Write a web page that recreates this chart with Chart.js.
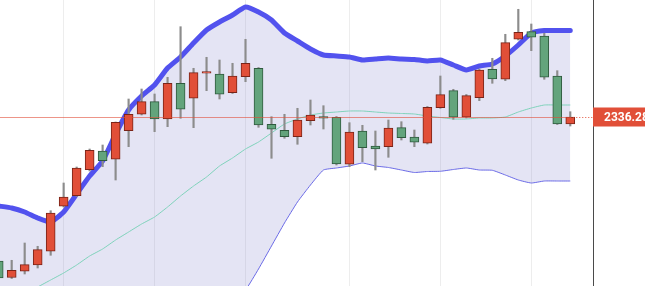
<!DOCTYPE html>
<html><head><meta charset="utf-8">
<script src="https://cdn.jsdelivr.net/npm/chart.js@4.4.1/dist/chart.umd.min.js"></script>
<style>html,body{margin:0;padding:0;background:#fff;overflow:hidden}canvas{display:block}</style>
</head><body>
<canvas id="c" width="645" height="286"></canvas>
<script>
// candle index (one per bar)
const idx = Array.from({length: 45}, (_, i) => i);
const open  = [2228.25,2215.88,2220.53,2225.25,2235.53,2269.28,2277.23,2296.73,2310.75,2304.53,2325.98,2338.28,2347.73,2334.75,2361.53,2350.28,2369.1,2368.5,2354.48,2366.48,2372.78,2330.78,2326.28,2321.48,2333.48,2336.48,2336.03,2300.78,2325.75,2314.5,2313.98,2328.23,2321.25,2316.53,2343.23,2355.98,2336.03,2350.73,2372.03,2364.53,2394.53,2400.23,2397,2367,2331];
const high  = [2229.75,2228.78,2241.75,2239.28,2265.98,2286.75,2298.75,2312.25,2315.25,2332.5,2349.75,2357.25,2353.5,2366.03,2403.98,2372.78,2381.03,2379,2376.53,2394.53,2373.38,2336.48,2338.28,2342.78,2349,2344.73,2336.63,2331.98,2330.03,2325.75,2334,2332.73,2326.5,2344.13,2367,2357.03,2353.13,2372.25,2380.28,2398.28,2417.03,2406,2399.03,2370.98,2340.23];
const low   = [2214,2215.13,2218.5,2223,2232.53,2268.75,2276.63,2295.75,2298.98,2289,2313.98,2337.75,2325.23,2328.98,2335.28,2328.23,2355.98,2349.75,2353.88,2362.73,2328.53,2305.28,2320.28,2315.78,2330.25,2327.25,2300.25,2298.98,2302.73,2296.5,2306.03,2319,2313.98,2316,2342.78,2334.53,2335.5,2348.48,2361.53,2363.48,2394,2385.98,2364.53,2330.63,2329.5];
const close = [2215.5,2221.28,2225.48,2236.73,2264.25,2276.25,2298,2311.28,2303.48,2332.28,2338.28,2347.73,2334.75,2361.53,2342.03,2369.48,2370.3,2353.28,2367,2376.53,2330.25,2327.03,2321.48,2334,2337.75,2335.28,2301,2325,2313.23,2312.25,2328,2320.73,2317.28,2343.53,2352.98,2336.03,2352.23,2371.5,2364.75,2391.98,2399.78,2396.03,2366.03,2331,2336.28];
// Bollinger bands
const upperBand  = [2269.5,2268,2265,2260.5,2257.5,2265,2278.5,2292,2303.25,2323.5,2341.5,2352,2360.25,2373,2381.25,2391.75,2401.5,2407.5,2412.75,2418.75,2415,2409,2399.25,2393.25,2387.25,2382.75,2382,2381.25,2379,2379.75,2380.5,2379.75,2379.38,2378.25,2379,2375.25,2371.5,2374.5,2376,2382,2390.25,2399.25,2401.13,2401.13,2401.13];
const middleBand = [2195.25,2200.5,2203.5,2208.75,2214,2219.25,2225.25,2232,2237.25,2244,2250,2256,2261.25,2268.75,2277,2284.5,2291.25,2299.5,2305.5,2312.25,2317.5,2324.25,2331,2334.75,2337.75,2339.25,2340,2340.75,2340.75,2340,2339.25,2338.88,2338.5,2337,2335.88,2334.75,2334.75,2335.5,2335.5,2336.25,2340,2343,2345.25,2345.25,2345.25];
const lowerBand  = [2121,2133,2142,2157,2170.5,2173.5,2172,2172,2171.25,2164.5,2158.5,2160,2162.25,2164.5,2172.75,2177.25,2181,2191.5,2198.25,2206.5,2222.25,2239.5,2256.75,2272.5,2285.25,2296.5,2298,2299.5,2301.75,2299.5,2298.38,2296.5,2294.63,2295.38,2295.53,2296.88,2298,2296.5,2296.28,2292.75,2289,2286.75,2288.25,2288.25,2288.25];
// vertical grid positions (candle index)
const gridTicks = [5, 12, 19, 27, 34, 41];
const lastPrice = close[close.length - 1];
const lastPriceLabel = lastPrice.toFixed(2);

const UP = '#e14f38', UP_BORDER = '#7a2418';
const DOWN = '#63a47c', DOWN_BORDER = '#2f5a3e';
const isUp = idx.map(i => close[i] >= open[i]);

const priceLine = {
  id: 'priceLine',
  afterDatasetsDraw(chart) {
    const {ctx, chartArea, scales: {x, y}} = chart;
    const py = Math.round(y.getPixelForValue(lastPrice)) + 0.5;
    const xEnd = x.getPixelForValue(idx[idx.length - 1]);
    ctx.save();
    ctx.lineWidth = 1;
    ctx.strokeStyle = 'rgba(225,79,56,0.6)';
    ctx.beginPath(); ctx.moveTo(chartArea.left, py); ctx.lineTo(xEnd, py); ctx.stroke();
    ctx.strokeStyle = UP;
    ctx.setLineDash([1, 2]);
    ctx.beginPath(); ctx.moveTo(xEnd, py); ctx.lineTo(chartArea.right, py); ctx.stroke();
    ctx.restore();
  },
  afterDraw(chart) {
    const {ctx, chartArea, scales: {y}, width} = chart;
    const py = Math.round(y.getPixelForValue(lastPrice));
    ctx.save();
    ctx.fillStyle = UP;
    ctx.fillRect(chartArea.right, py - 9.5, width - chartArea.right, 19);
    ctx.fillStyle = '#ffffff';
    ctx.font = 'bold 12px Roboto, sans-serif';
    ctx.textBaseline = 'middle';
    ctx.textAlign = 'left';
    ctx.fillText(lastPriceLabel, chartArea.right + 11, py + 0.5);
    ctx.restore();
  }
};

new Chart(document.getElementById('c'), {
  type: 'bar',
  data: {
    datasets: [
      { type: 'line', data: idx.map(i => ({x: i, y: upperBand[i]})), borderColor: '#5252ee', borderWidth: 5,
        pointRadius: 0, fill: '+1', backgroundColor: 'rgba(120,120,200,0.2)', tension: 0.15, order: 5,
        borderJoinStyle: 'round', borderCapStyle: 'round' },
      { type: 'line', data: idx.map(i => ({x: i, y: lowerBand[i]})), borderColor: '#6a6ae6', borderWidth: 1,
        pointRadius: 0, fill: false, tension: 0.15, order: 4 },
      { type: 'line', data: idx.map(i => ({x: i, y: middleBand[i]})), borderColor: '#7ed2ba', borderWidth: 1,
        pointRadius: 0, fill: false, tension: 0.15, order: 3 },
      { data: idx.map(i => ({x: i, y: [low[i], high[i]]})), backgroundColor: '#8c8c8c', borderWidth: 0,
        barThickness: 1.5, grouped: false, order: 1 },
      { data: idx.map(i => ({x: i, y: [open[i], close[i]]})),
        backgroundColor: isUp.map(u => u ? UP : DOWN), borderColor: isUp.map(u => u ? UP_BORDER : DOWN_BORDER),
        borderWidth: 1, borderSkipped: false, barThickness: 9, grouped: false, order: 0 }
    ]
  },
  options: {
    responsive: false, animation: false, devicePixelRatio: 1,
    layout: { padding: 0 },
    plugins: { legend: { display: false }, tooltip: { enabled: false } },
    scales: {
      x: { type: 'linear', min: 0.1, max: 45.75, offset: false,
           grid: { offset: false, color: 'rgba(0,0,0,0.07)', drawTicks: false },
           border: { display: false }, ticks: { display: false },
           afterBuildTicks: s => { s.ticks = gridTicks.map(v => ({value: v})); },
           afterFit: s => { s.height = 0; } },
      y: { position: 'right', min: 2209.5, max: 2424,
           grid: { display: false }, ticks: { display: false },
           border: { display: true, color: '#4a4a4a', width: 1 },
           afterFit: s => { s.width = 52; } }
    }
  },
  plugins: [priceLine]
});
</script>
</body></html>
